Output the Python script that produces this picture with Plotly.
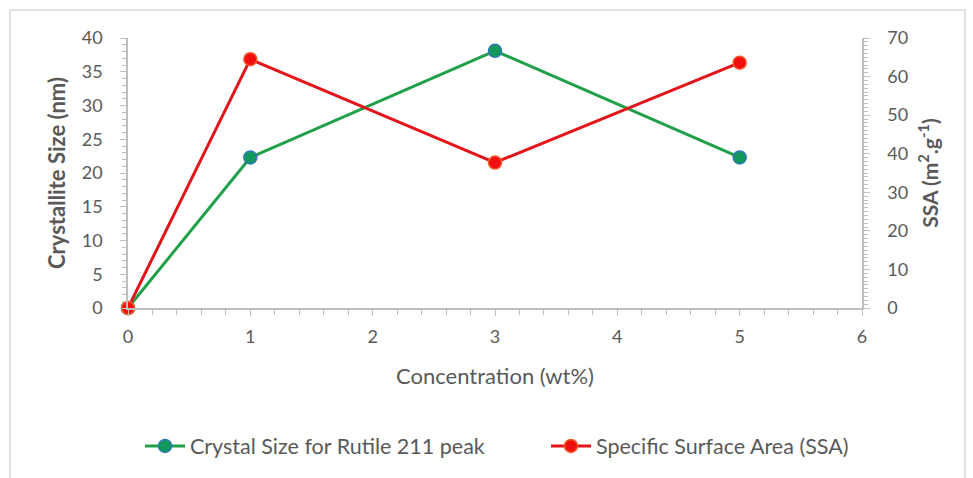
import plotly.graph_objects as go

concentration = [0, 1, 3, 5]
crystal_size = [0, 22.3, 38.1, 22.3]
ssa = [0, 64.5, 37.7, 63.6]

FONT = "Lato"
GRAY = "#595959"
AXIS = "#bfbfbf"

fig = go.Figure()
fig.add_trace(go.Scatter(
    x=concentration, y=crystal_size, name="Crystal Size for Rutile 211 peak",
    mode="lines+markers", cliponaxis=False, legend="legend",
    line=dict(color="#21a04a", width=3),
    marker=dict(size=13, color="#12985a", line=dict(color="#2f78b5", width=1.5)),
))
fig.add_trace(go.Scatter(
    x=concentration, y=ssa, name="Specific Surface Area (SSA)", yaxis="y2",
    mode="lines+markers", cliponaxis=False, legend="legend2",
    line=dict(color="#e3151b", width=3),
    marker=dict(size=13, color="#f00e0e", line=dict(color="#f25a2a", width=1.5)),
))

L, R, T, B = 128, 111, 38, 170
W, H = 973, 478
pw, ph = W - L - R, H - T - B

leg_common = dict(orientation="h", y=(H - B - 446) / ph, yanchor="middle", xanchor="left",
                  font=dict(size=21.5, color=GRAY), itemwidth=40, bgcolor="rgba(0,0,0,0)")

fig.update_layout(
    width=W, height=H,
    margin=dict(l=L, r=R, t=T, b=B),
    paper_bgcolor="white", plot_bgcolor="white",
    font=dict(family=FONT, color=GRAY, size=16),
    showlegend=True,
    legend=dict(x=(140 - L) / pw, **leg_common),
    legend2=dict(x=(546 - L) / pw, **leg_common),
    xaxis=dict(range=[0, 6], dtick=1, showgrid=False, zeroline=False,
               showline=True, linecolor=AXIS, linewidth=1.5,
               ticks="outside", ticklen=6, tickcolor=AXIS, ticklabelstandoff=6,
               minor=dict(dtick=0.2, ticks="outside", ticklen=5, tickcolor=AXIS),
               tickfont=dict(size=18, color=GRAY),
               title=dict(text="Concentration (wt%)", font=dict(size=22, color=GRAY), standoff=22)),
    yaxis=dict(range=[0, 40], dtick=5, showgrid=False, zeroline=False,
               showline=True, linecolor=AXIS, linewidth=1.5,
               ticks="outside", ticklen=6, tickcolor=AXIS, ticklabelstandoff=14,
               minor=dict(dtick=1, ticks="outside", ticklen=4, tickcolor=AXIS),
               tickfont=dict(size=18, color=GRAY),
               title=dict(text="<b>Crystallite Size (nm)</b>", font=dict(size=22, color=GRAY), standoff=10)),
    yaxis2=dict(range=[0, 70], dtick=10, overlaying="y", side="right", showgrid=False,
                zeroline=False, showline=True, linecolor=AXIS, linewidth=1.5,
                ticks="outside", ticklen=6, tickcolor=AXIS, ticklabelstandoff=14,
                minor=dict(dtick=1, ticks="outside", ticklen=4, tickcolor=AXIS),
                tickfont=dict(size=18, color=GRAY),
                title=dict(text="<b>SSA (m<sup>2</sup>.g<sup>-1</sup>)</b>", font=dict(size=21, color=GRAY), standoff=16)),
)

# light chart-area frame
fig.add_shape(type="rect", xref="paper", yref="paper",
              x0=(10 - L) / pw, x1=(965 - L) / pw,
              y0=(H - B - 520) / ph, y1=(H - B - 10) / ph,
              line=dict(color="#d9d9d9", width=1.5), layer="below")

fig.write_html("out.html")
